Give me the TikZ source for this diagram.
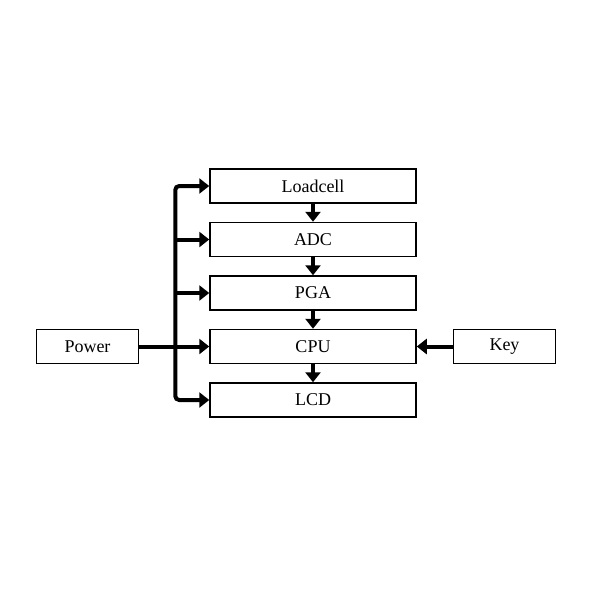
\documentclass[tikz,border=0pt]{standalone}
\usepackage{fontspec}
\setmainfont{Liberation Serif}
\usetikzlibrary{positioning,arrows.meta}

\tikzset{
  block/.style={draw, line width=1.5pt, minimum width=206pt, minimum height=34pt,
    inner sep=0pt, font=\fontsize{18}{20}\selectfont},
  side/.style={block, minimum width=102pt},
  link/.style={line width=4pt, -{Triangle[length=10pt,width=15pt]}},
}

\begin{document}
\begin{tikzpicture}[node distance=18pt]
\useasboundingbox (0,0) rectangle (600pt,-600pt);
	\node [block] (load) at (313pt,-186pt) {Loadcell};
	\node [block, below=of load] (adc) {ADC};
	\node [block, below=of adc] (pga) {PGA};
	\node [block, below=of pga] (cpu) {CPU};
	\node [block, below=of cpu] (lcd) {LCD};

	\node [side, left=70pt of cpu] (power) {Power};
	\node [side, right=36pt of cpu] (key) {Key};

	\coordinate [left=34pt of load.west] (bt);
	\coordinate [left=34pt of lcd.west] (bb);
	\coordinate [left=34pt of cpu.west] (bc);

	% chain
	\draw [link] (load) -- (adc);
	\draw [link] (adc) -- (pga);
	\draw [link] (pga) -- (cpu);
	\draw [link] (cpu) -- (lcd);

	% power bus
	\draw [link, {Triangle[length=10pt,width=15pt]}-{Triangle[length=10pt,width=15pt]}, rounded corners=4pt]
	  (lcd.west) -- (bb) -- (bt) -- (load.west);
	\draw [line width=4pt] (power.east) -- (bc);
	\draw [link] (bc |- adc.west) -- (adc.west);
	\draw [link] (bc |- pga.west) -- (pga.west);
	\draw [link] (bc) -- (cpu.west);

	\draw [link] (key) -- (cpu);
\end{tikzpicture}
\end{document}
